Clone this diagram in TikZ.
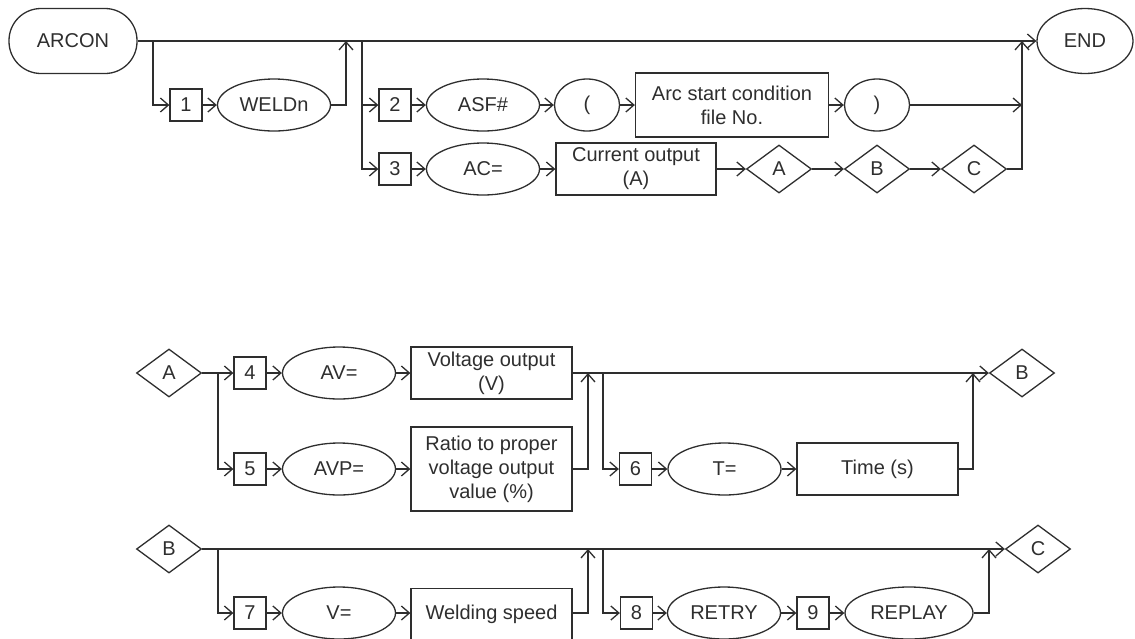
\documentclass[tikz,border=0pt]{standalone}
\usepackage{fontspec}
\setmainfont{Liberation Sans}
\usetikzlibrary{positioning, arrows.meta, shapes.geometric}
\definecolor{inkgray}{HTML}{2E2E2E}

\begin{document}
\begin{tikzpicture}[
    x=1pt, y=-1pt,
    font=\fontsize{20}{24}\selectfont,
    line width=1.3pt, inkgray,
    % Styles
    termnode/.style={rectangle, draw, rounded corners=32pt, minimum width=128pt, minimum height=65pt, inner sep=0pt},
    endnode/.style={ellipse, draw, minimum width=96pt, minimum height=65pt, inner sep=0pt},
    keynode/.style={ellipse, draw, minimum width=113pt, minimum height=52pt, inner sep=0pt},
    parnode/.style={ellipse, draw, minimum width=65pt, minimum height=52pt, inner sep=0pt},
    numbox/.style={rectangle, draw, minimum width=32pt, minimum height=32pt, inner sep=0pt},
    valbox/.style={rectangle, draw, minimum width=161pt, minimum height=52pt, align=center, inner sep=2pt},
    linknode/.style={diamond, draw, aspect=1.35, minimum width=65pt, minimum height=48pt, inner sep=0pt},
    arrow/.style={-{Straight Barb[length=8pt, width=14pt, line width=1.3pt]}}
]
\clip (0,0) rectangle (1135,638);

% ==================== ARCON ====================
\node[termnode] (arcon) at (73,41) {ARCON};
\node[endnode] (endn) at (1085,41) {END};

\node[numbox] (n1) at (186,105) {1};
\node[keynode] (weldn) at (274,105) {WELDn};

\node[numbox] (n2) at (395,105) {2};
\node[keynode] (asf) at (483,105) {ASF\#};
\node[parnode] (lpar) at (587,105) {(};
\node[valbox, minimum width=193pt, minimum height=64pt] (asfno) at (732,105) {Arc start condition\\file No.};
\node[parnode] (rpar) at (877,105) {)};

\node[numbox] (n3) at (395,169) {3};
\node[keynode] (ac) at (483,169) {AC=};
\node[valbox, minimum width=160pt] (acval) at (636,169) {Current output\\(A)};
\node[linknode] (la) at (779,169) {A};
\node[linknode] (lb) at (877,169) {B};
\node[linknode] (lc) at (974,169) {C};

\coordinate (s1) at (153,41);
\coordinate (r1) at (346,41);
\coordinate (s2) at (362,41);
\coordinate (r2) at (1022,105);
\coordinate (r3) at (1022,41);

\draw[arrow] (arcon.east) -- (endn.west);
\draw[arrow] (s1) |- (n1.west);
\draw[arrow] (n1) -- (weldn);
\draw[arrow] (weldn.east) -| (r1);
\draw[arrow] (s2) |- (n2.west);
\draw[arrow] (s2) |- (n3.west);
\draw[arrow] (n2) -- (asf);
\draw[arrow] (asf) -- (lpar);
\draw[arrow] (lpar) -- (asfno);
\draw[arrow] (asfno) -- (rpar);
\draw[arrow] (rpar.east) -- (r2);
\draw[arrow] (n3) -- (ac);
\draw[arrow] (ac) -- (acval);
\draw[arrow] (acval) -- (la);
\draw[arrow] (la) -- (lb);
\draw[arrow] (lb) -- (lc);
\draw[arrow] (lc.east) -| (r3);

% ==================== A ====================
\node[linknode] (la2) at (169,373) {A};
\node[numbox] (n4) at (250,373) {4};
\node[keynode] (av) at (339,373) {AV=};
\node[valbox] (avval) at (491.5,373) {Voltage output\\(V)};

\node[numbox] (n5) at (250,469) {5};
\node[keynode] (avp) at (339,469) {AVP=};
\node[valbox, minimum height=84pt] (avpval) at (491.5,469) {Ratio to proper\\voltage output\\value (\%)};

\node[numbox] (n6) at (635.5,469) {6};
\node[keynode] (tk) at (724.5,469) {T=};
\node[valbox] (tval) at (877.5,469) {Time (s)};
\node[linknode] (lb2) at (1022,373) {B};

\coordinate (s4) at (218,373);
\coordinate (r4) at (588,373);
\coordinate (s6) at (603,373);
\coordinate (r6) at (973,373);

\draw[arrow] (la2.east) -- (n4.west);
\draw[arrow] (s4) |- (n5.west);
\draw[arrow] (n4) -- (av);
\draw[arrow] (av) -- (avval);
\draw[arrow] (avval.east) -- (lb2.west);
\draw[arrow] (n5) -- (avp);
\draw[arrow] (avp) -- (avpval);
\draw[arrow] (avpval.east) -| (r4);
\draw[arrow] (s6) |- (n6.west);
\draw[arrow] (n6) -- (tk);
\draw[arrow] (tk) -- (tval);
\draw[arrow] (tval.east) -| (r6);

% ==================== B ====================
\node[linknode] (lb3) at (169,549) {B};
\node[numbox] (n7) at (250,613) {7};
\node[keynode] (vk) at (339,613) {V=};
\node[valbox] (vval) at (491.5,614.5) {Welding speed};

\node[numbox] (n8) at (636.5,613) {8};
\node[keynode] (retry) at (724,613) {RETRY};
\node[numbox] (n9) at (813,613) {9};
\node[keynode, minimum width=128pt] (replay) at (909,613) {REPLAY};
\node[linknode] (lc3) at (1038,549) {C};

\coordinate (s7) at (218,549);
\coordinate (r7) at (588,549);
\coordinate (s8) at (603,549);
\coordinate (r8) at (989,549);

\draw[arrow] (lb3.east) -- (lc3.west);
\draw[arrow] (s7) |- (n7.west);
\draw[arrow] (n7) -- (vk);
\draw[arrow] (vk) -- (vval.west |- vk);
\draw[arrow] (vval.east |- vk) -| (r7);
\draw[arrow] (s8) |- (n8.west);
\draw[arrow] (n8) -- (retry);
\draw[arrow] (retry) -- (n9);
\draw[arrow] (n9) -- (replay);
\draw[arrow] (replay.east) -| (r8);

\end{tikzpicture}
\end{document}
